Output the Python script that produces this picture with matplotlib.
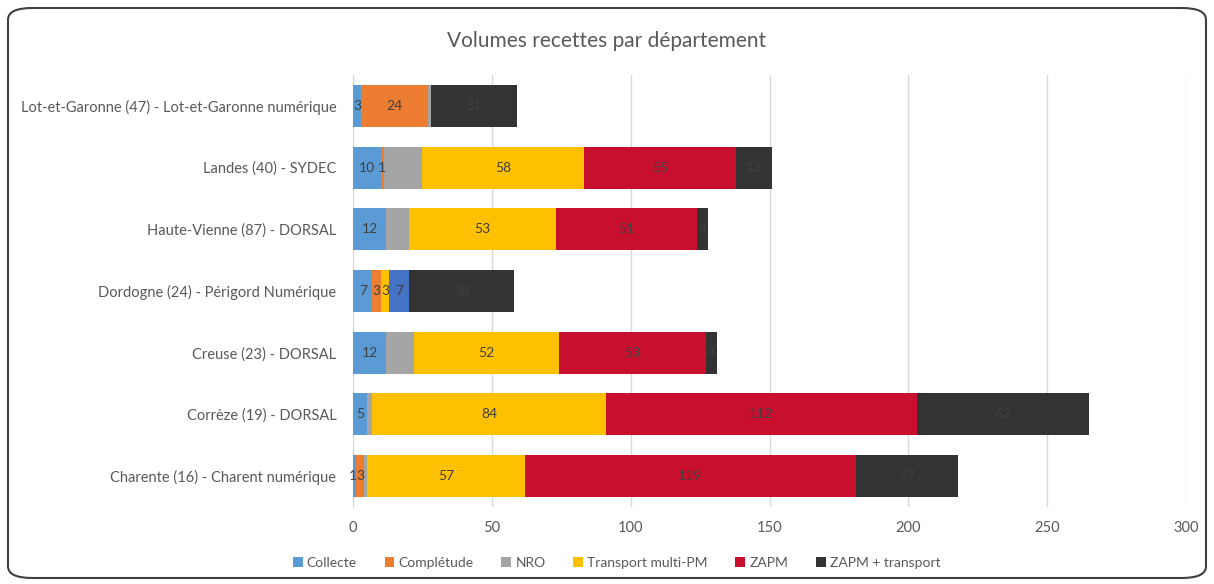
import matplotlib
matplotlib.use("Agg")
from matplotlib import pyplot as plt
from matplotlib.patches import FancyBboxPatch
import numpy as np

plt.rcParams['font.family'] = ['Lato', 'DejaVu Sans']

# categories, from bottom to top
departements = ["Charente (16) - Charent numérique",
                "Corrèze (19) - DORSAL",
                "Creuse (23) - DORSAL",
                "Dordogne (24) - Périgord Numérique",
                "Haute-Vienne (87) - DORSAL",
                "Landes (40) - SYDEC",
                "Lot-et-Garonne (47) - Lot-et-Garonne numérique"]

collecte = [1, 5, 12, 7, 12, 10, 3]
completude = [3, 0, 0, 3, 0, 1, 24]
nro = [1, 2, 10, 0, 8, 14, 1]
transport = [57, 84, 52, 3, 53, 58, 0]
zapm = [119, 112, 53, 0, 51, 55, 0]
autre = [0, 0, 0, 7, 0, 0, 0]          # petite série sans légende (Dordogne)
zapm_transport = [37, 62, 4, 38, 4, 13, 31]

series = [("Collecte", collecte, "#5B9BD5", True),
          ("Complétude", completude, "#ED7D31", True),
          ("NRO", nro, "#A5A5A5", False),
          ("Transport multi-PM", transport, "#FFC000", True),
          ("ZAPM", zapm, "#C8102E", True),
          ("_autre", autre, "#4472C4", True),
          ("ZAPM + transport", zapm_transport, "#333333", True)]

fig = plt.figure(figsize=(12.14, 5.84), dpi=100)
ax = fig.add_axes([0.2908, 0.132, 0.977 - 0.2908, 0.8716 - 0.132])

y = np.arange(len(departements))
left = np.zeros(len(departements))
for name, vals, col, show in series:
    vals = np.array(vals, dtype=float)
    bars = ax.barh(y, vals, left=left, height=0.68, color=col, label=name, zorder=3)
    if show:
        for b, v in zip(bars, vals):
            if v > 0:
                xc = b.get_x() + b.get_width() / 2
                # petits segments collés : on décale un peu le libellé
                if v < 2 and b.get_x() == 0:
                    xc = b.get_x()
                ax.text(xc, b.get_y() + b.get_height() / 2,
                        "{:g}".format(v), ha='center', va='center',
                        fontsize=10, color='#404040', zorder=4)
    left += vals

ax.set_xlim(0, 300)
ax.set_ylim(-0.5, len(departements) - 0.5)
ax.set_xticks(range(0, 301, 50))
ax.set_yticks(y)
ax.set_yticklabels(departements)
ax.tick_params(axis='both', length=0, labelsize=10.5, colors='#595959')
ax.tick_params(axis='x', pad=10)
ax.tick_params(axis='y', pad=12)
ax.grid(axis='x', color='#D9D9D9', linewidth=1, zorder=0)
for s in ['top', 'right', 'bottom']:
    ax.spines[s].set_visible(False)
ax.spines['left'].set_color('#D9D9D9')

fig.text(0.5, 0.93, "Volumes recettes par département", ha='center', va='center',
         fontsize=15, color='#595959')

handles, labels = ax.get_legend_handles_labels()
fig.legend(handles, labels, loc='center', bbox_to_anchor=(0.508, 0.036), ncol=6,
           frameon=False, fontsize=10, labelcolor='#595959', handlelength=0.7,
           handleheight=0.7, handletextpad=0.3, columnspacing=2.0)

border = FancyBboxPatch((8 / 1214, 6 / 584), 1198 / 1214, 570 / 584,
                        boxstyle="round,pad=0,rounding_size=0.02",
                        transform=fig.transFigure, fill=False,
                        edgecolor='#404040', linewidth=1.5)
fig.patches.append(border)

plt.savefig("out.png", dpi=100)
